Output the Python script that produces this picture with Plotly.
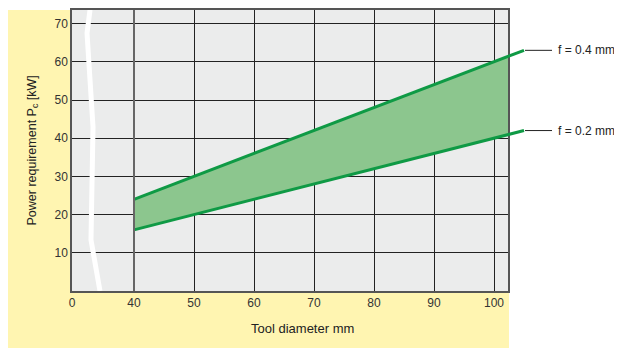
import numpy as np
import plotly.graph_objects as go

# values
diameter = [40, 50, 60, 70, 80, 90, 100, 105]
power_f04 = [24, 30, 36, 42, 48, 54, 60, 63]
power_f02 = [16, 20, 24, 28, 32, 36, 40, 42]
labels = ["f = 0.4 mm", "f = 0.2 mm"]

x_ticks = [40, 50, 60, 70, 80, 90, 100]
y_ticks = [10, 20, 30, 40, 50, 60, 70]

GREEN = "#0f9a45"
FILL = "#8cc68e"
YELLOW = "#fff5b1"
GRAY = "#ebecec"
FONT = "Liberation Sans, Arial, sans-serif"

# broken axis: "0" sits a bit left of 40
x0 = 40 - 62 / 6
x_main = [x0, x0 + 436 / 6]
x_wide = [x0, x0 + 458 / 6]
y_rng = [0, 281 / 3.82]

fig = go.Figure()

# band fill (clipped by main plot area)
fig.add_trace(go.Scatter(x=diameter, y=power_f02, mode="lines", line=dict(width=0),
                         hoverinfo="skip", showlegend=False))
fig.add_trace(go.Scatter(x=diameter, y=power_f04, mode="lines", line=dict(width=0),
                         fill="tonexty", fillcolor=FILL, hoverinfo="skip", showlegend=False))

# lines run past the plot edge
for vals in (power_f04, power_f02):
    fig.add_trace(go.Scatter(x=diameter, y=vals, mode="lines", xaxis="x2", yaxis="y2",
                             line=dict(color=GREEN, width=3), showlegend=False))

axis_font = dict(family=FONT, size=12, color="#333")
fig.update_layout(
    width=614, height=341,
    margin=dict(l=64, r=92, t=2, b=58),
    paper_bgcolor="white", plot_bgcolor="rgba(0,0,0,0)",
    showlegend=False,
    xaxis=dict(domain=[0, 436 / 458], range=x_main,
               tickvals=[x0] + x_ticks, ticktext=["0"] + [str(v) for v in x_ticks],
               showgrid=True, gridcolor="#222", gridwidth=1,
               showline=True, linecolor="#555", linewidth=1.5, mirror=True,
               zeroline=False, ticks="", tickfont=axis_font, automargin=False),
    yaxis=dict(range=y_rng, tickvals=y_ticks, showgrid=True, gridcolor="#222", gridwidth=1,
               showline=True, linecolor="#555", linewidth=1.5, mirror=True,
               zeroline=False, ticks="", tickfont=axis_font, automargin=False),
    xaxis2=dict(domain=[0, 1], range=x_wide, anchor="y2", visible=False,
                showgrid=False, zeroline=False),
    yaxis2=dict(domain=[0, 1], range=y_rng, anchor="x2", visible=False,
                showgrid=False, zeroline=False),
)

# yellow panel and grey plot background
fig.add_shape(type="rect", xref="paper", yref="paper", x0=-64 / 458, x1=437 / 458,
              y0=-57 / 281, y1=1, fillcolor=YELLOW, line_width=0, layer="below")
fig.add_shape(type="rect", xref="x domain", yref="y domain", x0=0, x1=1, y0=0, y1=1,
              fillcolor=GRAY, line_width=0, layer="below")

# the first gridline (at 40) is greyer and a bit heavier
fig.add_shape(type="line", xref="x", yref="y domain", x0=x_ticks[0], x1=x_ticks[0],
              y0=0, y1=1, line=dict(color="#666", width=2), layer="above")

# white break mark
brk_x = [32.67, 32.17, 33.17, 32.83, 34.33]
brk_y = [73.6, 67.5, 42.9, 13.4, 0]
path = "M " + " L ".join(f"{a},{b}" for a, b in zip(brk_x, brk_y))
fig.add_shape(type="path", xref="x", yref="y", path=path,
              line=dict(color="white", width=5), layer="above")

# labels at the line ends
for vals, lab in zip((power_f04, power_f02), labels):
    fig.add_shape(type="line", xref="paper", yref="y", x0=453 / 458, x1=480 / 458,
                  y0=vals[-1], y1=vals[-1], line=dict(color="#222", width=1))
    fig.add_annotation(xref="paper", yref="y", x=484 / 458, y=vals[-1], text=lab,
                       showarrow=False, xanchor="left", yanchor="middle",
                       font=dict(family=FONT, size=12, color="#222"))

fig.add_annotation(xref="paper", yref="paper", x=230 / 458, y=-37 / 281,
                   text="Tool diameter mm", showarrow=False,
                   xanchor="center", yanchor="middle",
                   font=dict(family=FONT, size=13, color="#222"))
fig.add_annotation(xref="paper", yref="paper", x=-40 / 458, y=0.5, textangle=-90,
                   text="Power requirement P<sub>c</sub> [kW]", showarrow=False,
                   xanchor="center", yanchor="middle",
                   font=dict(family=FONT, size=12.5, color="#222"))

fig.write_html("out.html")
